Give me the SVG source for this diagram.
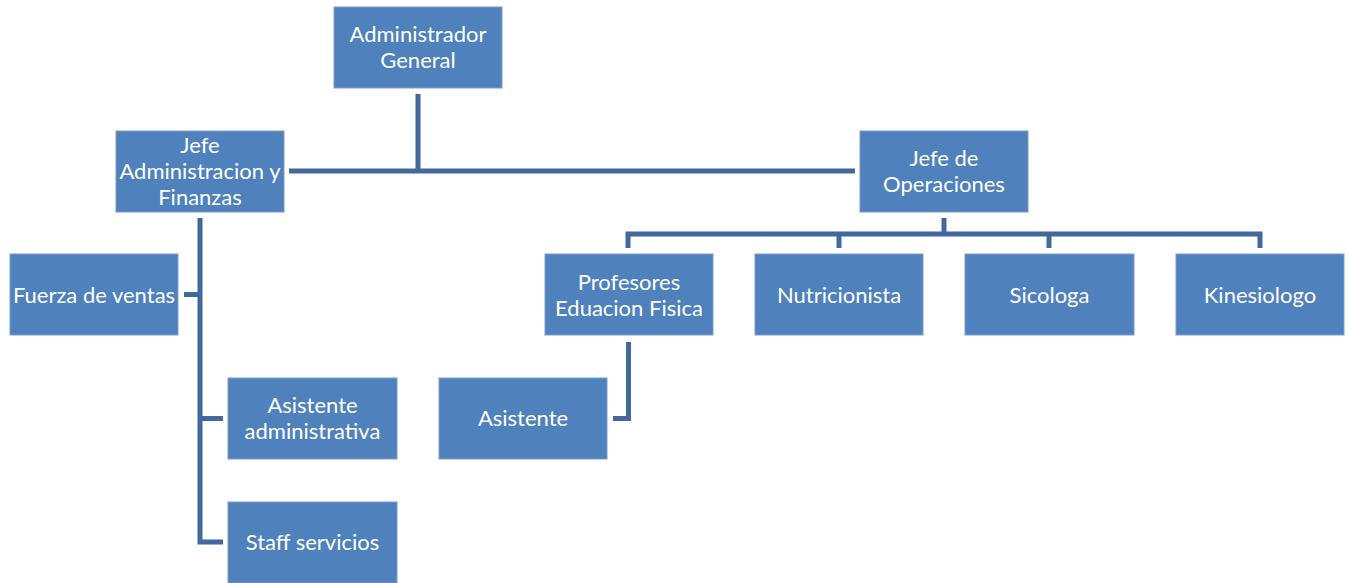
<svg xmlns="http://www.w3.org/2000/svg" width="1349" height="583" viewBox="0 0 1349 583">
<style>
.box{fill:#4F81BD;stroke:#7A9CCB;stroke-width:1}
.t{font-family:Lato,"Open Sans","Liberation Sans",sans-serif;font-size:22px;fill:#FFFFFF;text-anchor:middle;dominant-baseline:central}
.c{fill:none;stroke:#41699D;stroke-width:5;stroke-linejoin:miter;stroke-linecap:butt}
</style>
<rect width="1349" height="583" fill="#FFFFFF"/>
<g id="connectors">
<path class="c" d="M418 94 V171"/>
<path class="c" d="M289 171 H855"/>
<path class="c" d="M200 218 V542 H223"/>
<path class="c" d="M184 294.5 H200"/>
<path class="c" d="M200 418.5 H223"/>
<path class="c" d="M944 218 V234"/>
<path class="c" d="M628 248 V234 H1260 V248"/>
<path class="c" d="M839 234 V248"/>
<path class="c" d="M1049 234 V248"/>
<path class="c" d="M628.5 342 V418.5 H613"/>
</g>
<g id="admin-general"><rect class="box" x="334" y="7" width="168" height="81"/><text class="t" x="418" y="33">Administrador</text><text class="t" x="418" y="59">General</text></g>
<g id="jefe-admin"><rect class="box" x="116" y="131" width="168" height="81"/><text class="t" x="200" y="144">Jefe</text><text class="t" x="200" y="170">Administracion y</text><text class="t" x="200" y="196">Finanzas</text></g>
<g id="jefe-op"><rect class="box" x="860" y="131" width="168" height="81"/><text class="t" x="944" y="157">Jefe de</text><text class="t" x="944" y="183">Operaciones</text></g>
<g id="fuerza-ventas"><rect class="box" x="10" y="254" width="168" height="81"/><text class="t" x="94" y="294">Fuerza de ventas</text></g>
<g id="asistente-admin"><rect class="box" x="228" y="378" width="169" height="81"/><text class="t" x="312.5" y="404">Asistente</text><text class="t" x="312.5" y="430">administrativa</text></g>
<g id="staff"><rect class="box" x="228" y="502" width="169" height="81"/><text class="t" x="312.5" y="541">Staff servicios</text></g>
<g id="profesores"><rect class="box" x="545" y="254" width="168" height="81"/><text class="t" x="629" y="281">Profesores</text><text class="t" x="629" y="307">Eduacion Fisica</text></g>
<g id="nutricionista"><rect class="box" x="755" y="254" width="168" height="81"/><text class="t" x="839" y="294">Nutricionista</text></g>
<g id="sicologa"><rect class="box" x="965" y="254" width="169" height="81"/><text class="t" x="1049.5" y="294">Sicologa</text></g>
<g id="kinesiologo"><rect class="box" x="1176" y="254" width="168" height="81"/><text class="t" x="1260" y="294">Kinesiologo</text></g>
<g id="asistente"><rect class="box" x="439" y="378" width="168" height="81"/><text class="t" x="523" y="417">Asistente</text></g>
</svg>
